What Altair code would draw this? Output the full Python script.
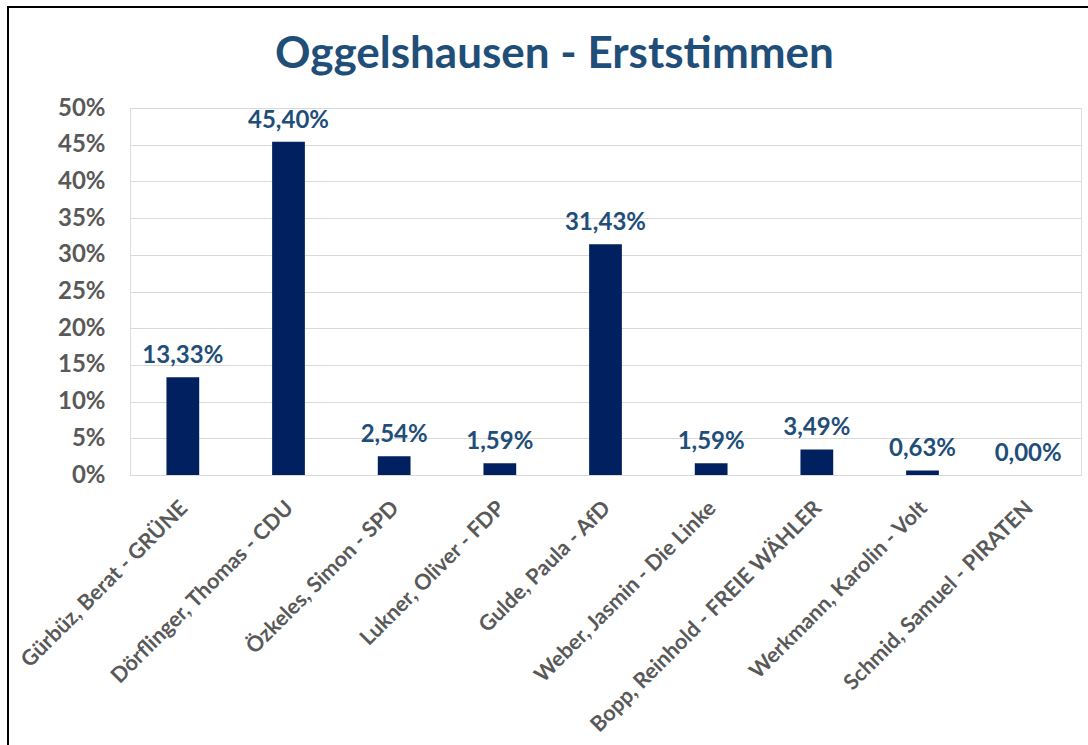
import altair as alt
import pandas as pd

candidates = [
    "Gürbüz, Berat - GRÜNE",
    "Dörflinger, Thomas - CDU",
    "Özkeles, Simon - SPD",
    "Lukner, Oliver - FDP",
    "Gulde, Paula - AfD",
    "Weber, Jasmin - Die Linke",
    "Bopp, Reinhold - FREIE WÄHLER",
    "Werkmann, Karolin - Volt",
    "Schmid, Samuel - PIRATEN",
]
shares = [13.33, 45.40, 2.54, 1.59, 31.43, 1.59, 3.49, 0.63, 0.00]
y_ticks = [0, 0.05, 0.10, 0.15, 0.20, 0.25, 0.30, 0.35, 0.40, 0.45, 0.50]

df = pd.DataFrame({
    "candidate": candidates,
    "share": [s / 100 for s in shares],
    "label": [f"{s:.2f}%".replace(".", ",") for s in shares],
})

FONT = "Lato"
GRAY = "#595959"
BLUE = "#1F4E79"
NAVY = "#002060"

x = alt.X("candidate:N", sort=candidates, title=None,
          scale=alt.Scale(paddingInner=0.69, paddingOuter=0.345),
          axis=alt.Axis(labelAngle=-45, labelFont=FONT, labelFontSize=21.5,
                        labelFontWeight="bold", labelColor=GRAY, ticks=False,
                        domainColor="#D9D9D9", domainWidth=1, labelPadding=22,
                        labelOffset=-6, labelLimit=400))
y = alt.Y("share:Q", title=None,
          scale=alt.Scale(domain=[0, 0.5], nice=False),
          axis=alt.Axis(values=y_ticks, format=".0%",
                        labelOverlap=False, labelFont=FONT,
                        labelFontSize=24, labelFontWeight="bold",
                        labelColor=GRAY, ticks=False, domain=False,
                        gridColor="#D9D9D9", gridWidth=1, labelPadding=25))

bars = alt.Chart(df).mark_bar(color=NAVY).encode(x=x, y=y)
texts = alt.Chart(df).mark_text(
    baseline="bottom", dy=-9, font=FONT, fontSize=24, fontWeight="bold",
    color=BLUE
).encode(x=x, y=y, text="label:N")

frame_df = pd.DataFrame({"a": [0]})
top_line = alt.Chart(frame_df).mark_rule(color="#000000", strokeWidth=2).encode(
    x=alt.value(-123), x2=alt.value(1000), y=alt.value(-101))
left_line = alt.Chart(frame_df).mark_rule(color="#000000", strokeWidth=2).encode(
    x=alt.value(-122), y=alt.value(-101), y2=alt.value(700))

chart = alt.layer(bars, texts, top_line, left_line).properties(
    width=951, height=367,
    title=alt.TitleParams("Oggelshausen - Erststimmen", font=FONT, fontSize=44,
                          fontWeight="bold", color=BLUE, anchor="middle",
                          frame="group", offset=0, dx=-51, dy=71),
    autosize=alt.AutoSizeParams(type="none"),
    padding={"left": 130, "top": 108, "right": 7, "bottom": 270},
).configure_view(stroke=None).configure(background="white")

chart.save("out.html", embed_options={"renderer": "svg", "actions": False})
